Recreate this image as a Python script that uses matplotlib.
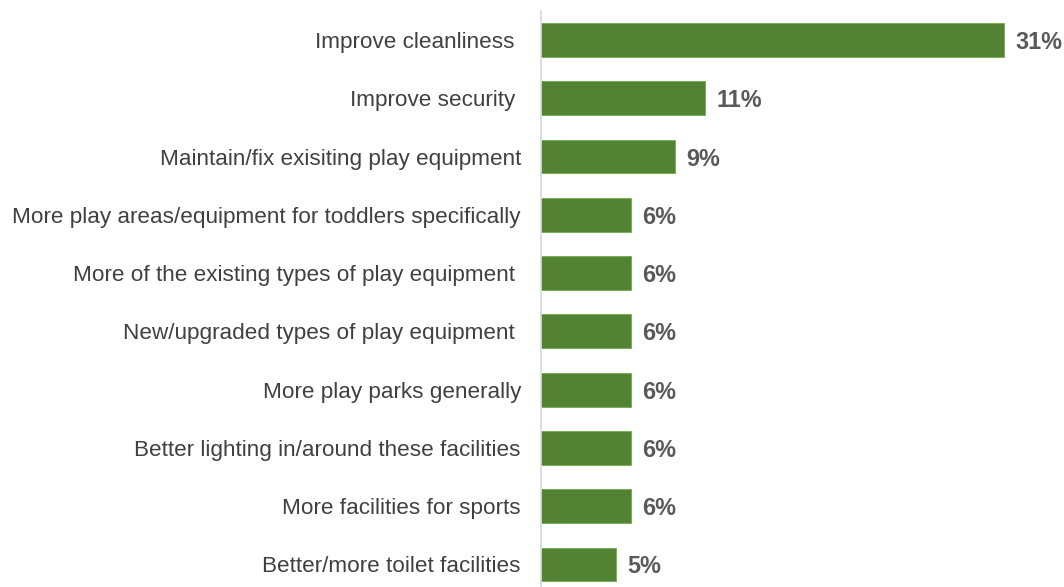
import matplotlib
matplotlib.use("Agg")
import matplotlib.pyplot as plt

categories = [
    "Improve cleanliness ",
    "Improve security ",
    "Maintain/fix exisiting play equipment",
    "More play areas/equipment for toddlers specifically",
    "More of the existing types of play equipment ",
    "New/upgraded types of play equipment ",
    "More play parks generally",
    "Better lighting in/around these facilities",
    "More facilities for sports",
    "Better/more toilet facilities",
]
values = [31, 11, 9, 6, 6, 6, 6, 6, 6, 5]

plt.rcParams["font.family"] = ["Liberation Sans", "DejaVu Sans"]

fig = plt.figure(figsize=(10.64, 5.87), dpi=100)
ax = fig.add_axes([541 / 1064, -0.0113, 1 - 541 / 1064, 0.9928])

pos = list(range(len(categories)))
ax.barh(pos, values, height=0.58, color="#548235", edgecolor="#70AD47", linewidth=0.6)
ax.set_ylim(len(categories) - 0.5, -0.5)
ax.set_xlim(0, 35)

ax.set_yticks(pos)
ax.set_yticklabels(categories, fontsize=16.2, color="#404040")
ax.tick_params(axis="y", length=0, pad=14.4)
ax.set_xticks([])

for s in ["top", "right", "bottom"]:
    ax.spines[s].set_visible(False)
ax.spines["left"].set_color("#D9D9D9")
ax.spines["left"].set_linewidth(1.2)

for p, v in zip(pos, values):
    ax.annotate(f"{v}%", xy=(v, p), xytext=(8, 0), textcoords="offset points",
                va="center_baseline", ha="left", fontsize=16.8, fontweight="bold",
                color="#595959")

fig.savefig("out.png", dpi=100)
